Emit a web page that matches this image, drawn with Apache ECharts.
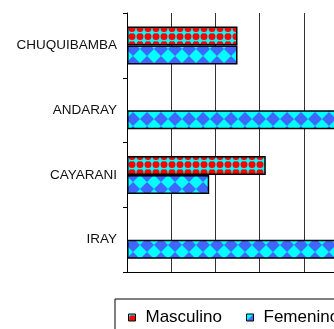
<!DOCTYPE html>
<html>
<head>
<meta charset="utf-8">
<script src="https://cdn.jsdelivr.net/npm/echarts@6/dist/echarts.min.js"></script>
<style>
  html, body { margin: 0; padding: 0; background: #fff; }
  #main { width: 334px; height: 329px; }
</style>
</head>
<body>
<div id="main"></div>
<script>
// data, top to bottom as in the picture
var categories = ['CHUQUIBAMBA', 'ANDARAY', 'CAYARANI', 'IRAY']
var masculino = [25, '-', 31.4, '-']
var femenino = [25, 50, 18.6, 50]
var seriesNames = ['Masculino', 'Femenino']

// red dots on cyan
function makeDots () {
  var c = document.createElement('canvas')
  c.width = 8; c.height = 8
  var ctx = c.getContext('2d')
  ctx.fillStyle = '#00ffff'
  ctx.fillRect(0, 0, 8, 8)
  ctx.fillStyle = '#ff0000'
  ctx.beginPath(); ctx.arc(4, 4.5, 3.5, 0, Math.PI * 2); ctx.fill()
  ctx.fillStyle = '#9a6a6a'
  ctx.fillRect(3, 1, 2, 1)
  return c
}

// blue diamonds on cyan
function makeDiamonds () {
  var c = document.createElement('canvas')
  c.width = 14; c.height = 14
  var ctx = c.getContext('2d')
  ctx.fillStyle = '#00ffff'
  ctx.fillRect(0, 0, 14, 14)
  ctx.fillStyle = '#3f66ff'
  ctx.beginPath()
  ctx.moveTo(7, 0); ctx.lineTo(14, 7); ctx.lineTo(7, 14); ctx.lineTo(0, 7)
  ctx.closePath(); ctx.fill()
  return c
}

var chart = echarts.init(document.getElementById('main'))

var barStyle = function (img) {
  return {
    color: { image: img, repeat: 'repeat' },
    borderColor: '#000',
    borderWidth: 1.5
  }
}

chart.setOption({
  animation: false,
  grid: { left: 127, top: 13, width: 221, height: 259, outerBoundsMode: 'none' },
  xAxis: {
    type: 'value',
    min: 0,
    max: 50,
    interval: 10,
    axisLine: { show: true, lineStyle: { color: '#000' } },
    axisTick: { show: false },
    axisLabel: { show: false },
    splitLine: { show: true, lineStyle: { color: '#333', width: 1 } }
  },
  yAxis: {
    type: 'category',
    inverse: true,
    data: categories,
    axisLine: { show: true, lineStyle: { color: '#000' } },
    axisTick: { show: true, length: 4, lineStyle: { color: '#000' } },
    axisLabel: {
      margin: 10,
      color: '#111',
      fontFamily: 'Liberation Sans, Arial, sans-serif',
      fontSize: 13.5
    },
    splitLine: { show: false }
  },
  legend: {
    data: seriesNames,
    left: 115,
    top: 299,
    width: 400,
    icon: 'rect',
    padding: [10, 12, 16, 13],
    itemGap: 24,
    itemWidth: 7,
    itemHeight: 7,
    borderColor: '#000',
    borderWidth: 1,
    itemStyle: { borderColor: '#000', borderWidth: 1 },
    textStyle: {
      color: '#000',
      fontFamily: 'Liberation Sans, Arial, sans-serif',
      fontSize: 17,
      padding: [0, 0, 0, 5]
    }
  },
  series: [
    {
      name: seriesNames[0],
      type: 'bar',
      data: masculino,
      barWidth: 19,
      barGap: '0%',
      itemStyle: barStyle(makeDots())
    },
    {
      name: seriesNames[1],
      type: 'bar',
      data: femenino,
      barWidth: 19,
      barGap: '0%',
      itemStyle: barStyle(makeDiamonds())
    }
  ]
})
</script>
</body>
</html>
